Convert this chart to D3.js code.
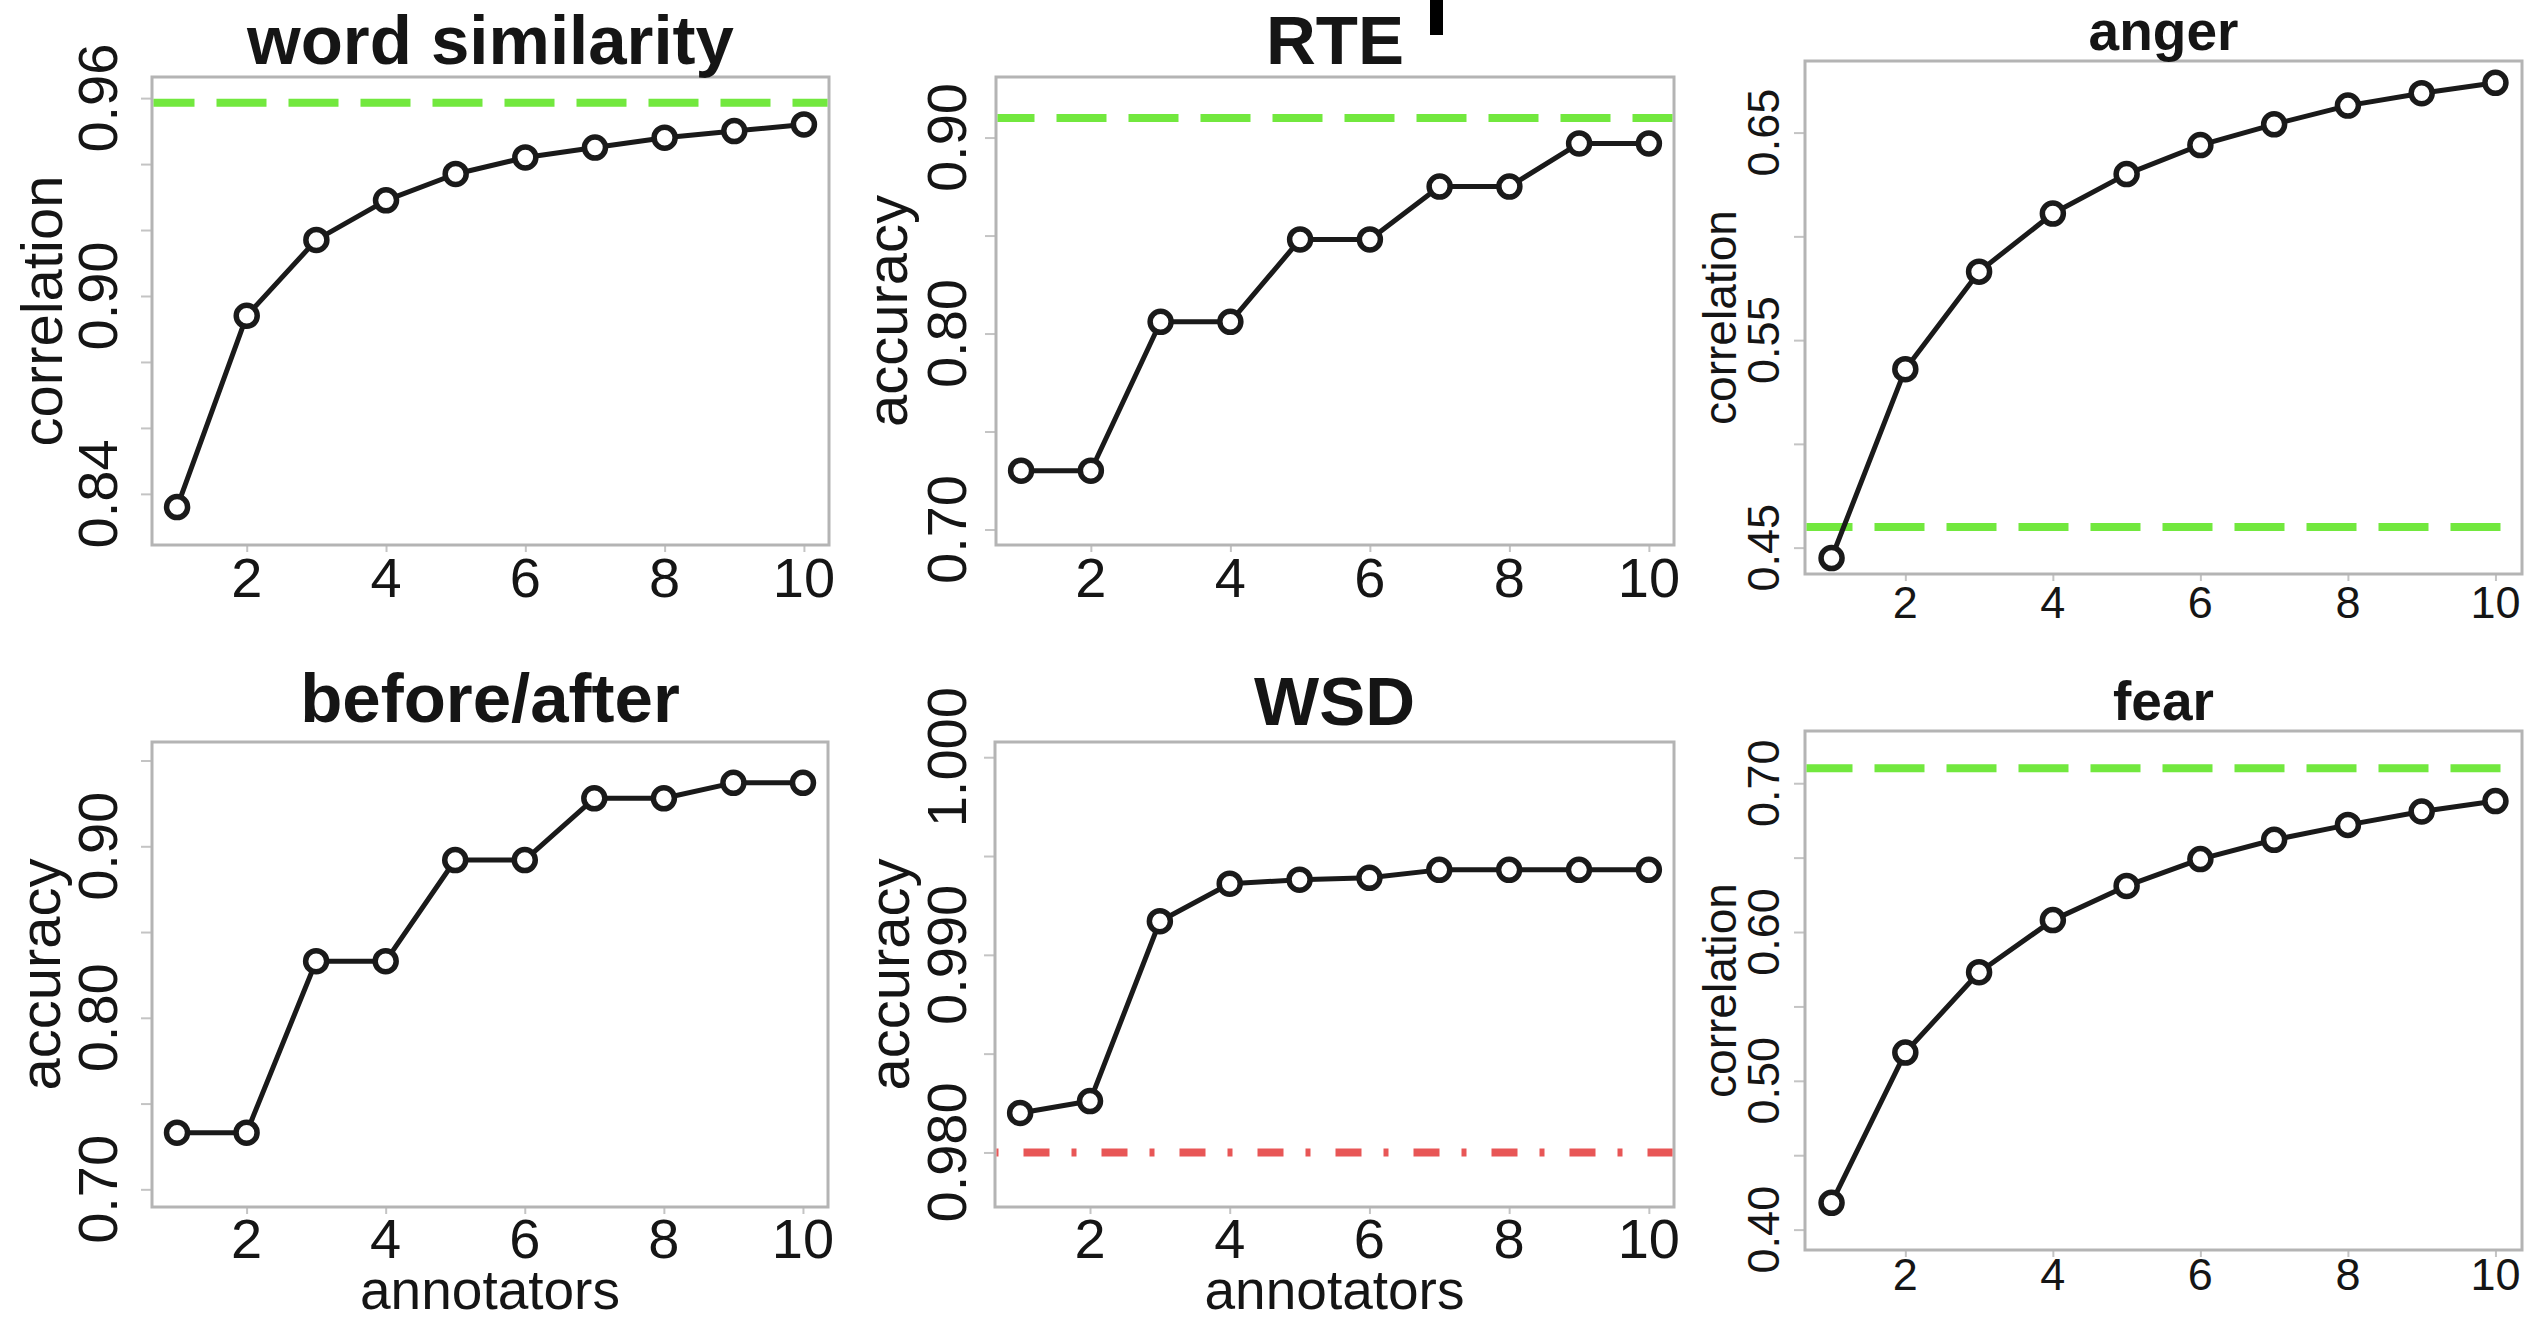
<!DOCTYPE html>
<html>
<head>
<meta charset="utf-8">
<script src="https://cdn.jsdelivr.net/npm/d3@7"></script>
<style>
  html, body { margin: 0; padding: 0; background: #ffffff; }
  svg { display: block; }
  text { font-family: "Liberation Sans", Arial, Helvetica, sans-serif; fill: #151515; }
</style>
</head>
<body>
<svg id="chart" width="2539" height="1321"></svg>
<script>
// ---------------- DATA ----------------
const annotators = [1, 2, 3, 4, 5, 6, 7, 8, 9, 10];

const titles  = ["word similarity", "RTE", "anger", "before/after", "WSD", "fear"];
const yTitles = ["correlation", "accuracy", "correlation", "accuracy", "accuracy", "correlation"];
const xTitles = ["", "", "", "annotators", "annotators", ""];

const wordSimilarity = [0.836, 0.894, 0.917, 0.929, 0.937, 0.942, 0.945, 0.948, 0.950, 0.952];
const rte            = [0.730, 0.730, 0.806, 0.806, 0.848, 0.848, 0.875, 0.875, 0.897, 0.897];
const anger          = [0.445, 0.536, 0.583, 0.611, 0.630, 0.644, 0.654, 0.663, 0.669, 0.674];
const beforeAfter    = [0.733, 0.733, 0.833, 0.833, 0.892, 0.892, 0.928, 0.928, 0.937, 0.937];
const wsd            = [0.9820, 0.9826, 0.9917, 0.9936, 0.9938, 0.9939, 0.9943, 0.9943, 0.9943, 0.9943];
const fear           = [0.418, 0.519, 0.573, 0.608, 0.631, 0.649, 0.662, 0.672, 0.681, 0.688];

// reference (expert) levels; null = none drawn
const referenceLevels = [0.9586, 0.910, 0.460, null, 0.980, 0.710];
const referenceKinds  = ["green", "green", "green", null, "red", "green"];

// axis domains
const xDomain = [0.64, 10.36];
const yDomains = [
  [0.8245, 0.9664],
  [0.6921, 0.9309],
  [0.4373, 0.6845],
  [0.6897, 0.9608],
  [0.97724, 1.00077],
  [0.3863, 0.7351]
];

// tick values and the tick labels that are printed
const xTicks = [2, 4, 6, 8, 10];
const yTicks = [
  [0.84, 0.86, 0.88, 0.90, 0.92, 0.94, 0.96],
  [0.70, 0.75, 0.80, 0.85, 0.90],
  [0.45, 0.50, 0.55, 0.60, 0.65],
  [0.70, 0.75, 0.80, 0.85, 0.90, 0.95],
  [0.980, 0.985, 0.990, 0.995, 1.000],
  [0.40, 0.45, 0.50, 0.55, 0.60, 0.65, 0.70]
];
const yTickLabels = [
  ["0.84", "", "", "0.90", "", "", "0.96"],
  ["0.70", "", "0.80", "", "0.90"],
  ["0.45", "", "0.55", "", "0.65"],
  ["0.70", "", "0.80", "", "0.90", ""],
  ["0.980", "", "0.990", "", "1.000"],
  ["0.40", "", "0.50", "", "0.60", "", "0.70"]
];

const seriesList = [wordSimilarity, rte, anger, beforeAfter, wsd, fear];

// ---------------- LAYOUT (presentation only) ----------------
const layout = [
  { x0: 152,  x1: 829,  y0: 77,  y1: 545,  titleSize: 69, titleY: 64,  tickSize: 56, tickOff: 35, labSize: 58, labOff: 90, xTickY: 597,  xLabY: 0,    dashOff: 9 },
  { x0: 996,  x1: 1674, y0: 77,  y1: 545,  titleSize: 69, titleY: 64,  tickSize: 56, tickOff: 30, labSize: 58, labOff: 89, xTickY: 597,  xLabY: 0,    dashOff: 13 },
  { x0: 1805, x1: 2522, y0: 61,  y1: 574,  titleSize: 55, titleY: 50,  tickSize: 45, tickOff: 26, labSize: 46, labOff: 69, xTickY: 618,  xLabY: 0,    dashOff: 4 },
  { x0: 152,  x1: 828,  y0: 742, y1: 1207, titleSize: 69, titleY: 722, tickSize: 56, tickOff: 35, labSize: 58, labOff: 92, xTickY: 1258, xLabY: 1309, dashOff: 9 },
  { x0: 995,  x1: 1674, y0: 742, y1: 1207, titleSize: 69, titleY: 725, tickSize: 56, tickOff: 29, labSize: 58, labOff: 86, xTickY: 1258, xLabY: 1309, dashOff: 3 },
  { x0: 1805, x1: 2522, y0: 731, y1: 1250, titleSize: 55, titleY: 720, tickSize: 45, tickOff: 26, labSize: 46, labOff: 69, xTickY: 1290, xLabY: 0,    dashOff: 4 }
];

const svg = d3.select("#chart");
const boxColor = "#b4b4b4";
const ink = "#1a1a1a";

layout.forEach((L, i) => {
  const g = svg.append("g");
  const x = d3.scaleLinear().domain(xDomain).range([L.x0, L.x1]);
  const y = d3.scaleLinear().domain(yDomains[i]).range([L.y1, L.y0]);
  const cx = (L.x0 + L.x1) / 2, cy = (L.y0 + L.y1) / 2;

  // y axis ticks (lines only)
  const ya = g.append("g").attr("transform", `translate(${L.x0},0)`)
    .call(d3.axisLeft(y).tickValues(yTicks[i]).tickSize(11).tickFormat(""));
  ya.select(".domain").remove();
  ya.selectAll("line").attr("stroke", "#c4c4c4").attr("stroke-width", 2);

  // x axis ticks
  const xa = g.append("g").attr("transform", `translate(0,${L.y1})`)
    .call(d3.axisBottom(x).tickValues(xTicks).tickSize(7).tickFormat(""));
  xa.select(".domain").remove();
  xa.selectAll("line").attr("stroke", "#c4c4c4").attr("stroke-width", 2);

  // box
  g.append("rect")
    .attr("x", L.x0).attr("y", L.y0)
    .attr("width", L.x1 - L.x0).attr("height", L.y1 - L.y0)
    .attr("fill", "none").attr("stroke", boxColor).attr("stroke-width", 3);

  // y tick labels (rotated, as in base R)
  yTicks[i].forEach((v, k) => {
    const lab = yTickLabels[i][k];
    if (!lab) return;
    g.append("text")
      .attr("transform", `translate(${L.x0 - L.tickOff},${y(v)}) rotate(-90)`)
      .attr("text-anchor", "middle")
      .attr("font-size", L.tickSize)
      .text(lab);
  });

  // x tick labels
  xTicks.forEach(v => {
    g.append("text")
      .attr("x", x(v)).attr("y", L.xTickY)
      .attr("text-anchor", "middle")
      .attr("font-size", L.tickSize)
      .text(String(v));
  });

  // y axis title
  g.append("text")
    .attr("transform", `translate(${L.x0 - L.labOff},${cy}) rotate(-90)`)
    .attr("text-anchor", "middle")
    .attr("font-size", L.labSize)
    .text(yTitles[i]);

  // x axis title
  if (xTitles[i]) {
    g.append("text")
      .attr("x", cx).attr("y", L.xLabY)
      .attr("text-anchor", "middle")
      .attr("font-size", 55)
      .text(xTitles[i]);
  }

  // panel title
  g.append("text")
    .attr("x", cx).attr("y", L.titleY)
    .attr("text-anchor", "middle")
    .attr("font-size", L.titleSize)
    .attr("font-weight", "bold")
    .text(titles[i]);

  // reference line
  const ref = referenceLevels[i];
  if (ref !== null) {
    const isRed = referenceKinds[i] === "red";
    g.append("line")
      .attr("x1", L.x0 + 1.5).attr("x2", L.x1 - 1.5)
      .attr("y1", y(ref)).attr("y2", y(ref))
      .attr("stroke", isRed ? "#e85656" : "#72e83e")
      .attr("stroke-width", 8)
      .attr("stroke-dasharray", isRed ? "5,25,26,22" : "50,22")
      .attr("stroke-dashoffset", L.dashOff);
  }

  // data line + open circles
  const pts = annotators.map((a, k) => [a, seriesList[i][k]]);
  g.append("path")
    .datum(pts)
    .attr("fill", "none")
    .attr("stroke", ink)
    .attr("stroke-width", 5)
    .attr("stroke-linejoin", "round")
    .attr("d", d3.line().x(d => x(d[0])).y(d => y(d[1])));

  g.selectAll("circle.pt")
    .data(pts)
    .join("circle")
    .attr("class", "pt")
    .attr("cx", d => x(d[0]))
    .attr("cy", d => y(d[1]))
    .attr("r", 10.5)
    .attr("fill", "#ffffff")
    .attr("stroke", ink)
    .attr("stroke-width", 5.5);
});

// stray black mark at the top (cropped artefact in the source figure)
svg.append("rect")
  .attr("x", 1430).attr("y", 0).attr("width", 13).attr("height", 35)
  .attr("fill", "#000000");
</script>
</body>
</html>
